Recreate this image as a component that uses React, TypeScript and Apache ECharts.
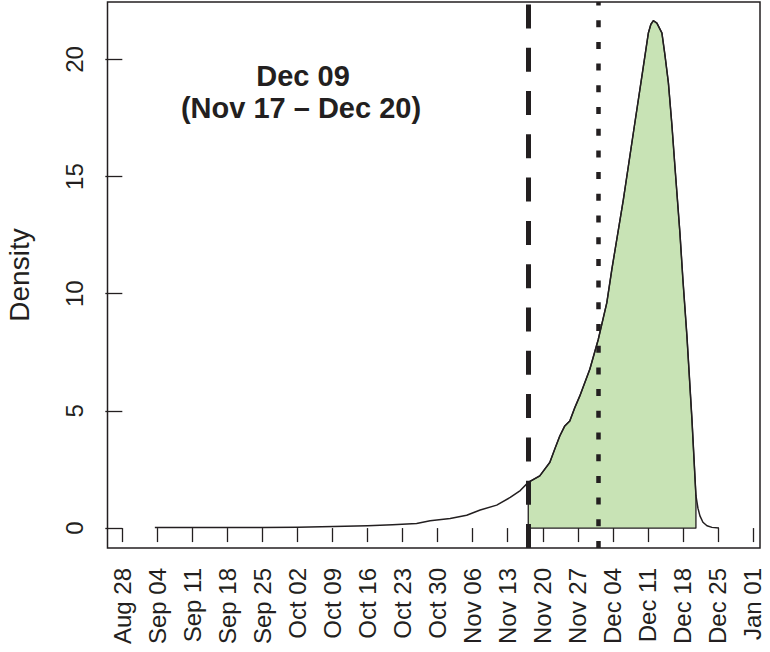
import React, { useEffect, useRef } from "react";
import * as echarts from "echarts";

// ---- data (days counted from Aug 28) ----
const X_TICK_DAYS = [0, 7, 14, 21, 28, 35, 42, 49, 56, 63, 70, 77, 84, 91, 98, 105, 112, 119, 126];
const X_TICK_LABELS = [
  "Aug 28", "Sep 04", "Sep 11", "Sep 18", "Sep 25", "Oct 02", "Oct 09", "Oct 16", "Oct 23",
  "Oct 30", "Nov 06", "Nov 13", "Nov 20", "Nov 27", "Dec 04", "Dec 11", "Dec 18", "Dec 25", "Jan 01",
];
const Y_TICKS = [0, 5, 10, 15, 20];

const CURVE_DAYS = [
  6.5, 14, 21, 28, 35, 42.2, 49, 54, 58.8, 61.5, 65.5, 68.8, 71.5, 74.8, 77.5, 79.5, 81.1,
  83.4, 85.4, 86.4, 87.4, 88.4, 89.4, 90.4, 91.4, 93.4, 95.1, 96.8, 97.8, 100.1, 102.1, 104.1,
  105.1, 105.6, 106.1, 106.8, 107.8, 108.4, 109.1, 109.8, 110.4, 111.4, 112.0, 112.8, 113.8,
  114.6, 115.0, 115.4, 116.0, 116.8, 117.8, 119.2,
];
const CURVE_DENSITY = [
  0.02, 0.02, 0.02, 0.03, 0.04, 0.07, 0.1, 0.14, 0.2, 0.31, 0.41, 0.55, 0.77, 0.98, 1.31, 1.6, 1.95,
  2.23, 2.8, 3.37, 3.93, 4.36, 4.57, 5.14, 5.64, 6.78, 8.06, 9.62, 11.04, 14.02, 16.87, 19.7,
  21.13, 21.5, 21.65, 21.55, 21.13, 20.2, 19.0, 17.2, 15.44, 12.6, 10.6, 8.2, 4.65,
  1.38, 0.85, 0.52, 0.25, 0.1, 0.03, 0.0,
];
const CI_LOWER_DAY = 81.1; // Nov 17
const CI_UPPER_DAY = 114.6; // Dec 20
const REFERENCE_DAY = 95.1; // dotted line
const TITLE_LINES = ["Dec 09", "(Nov 17 \u2013 Dec 20)"];

const X_MIN = -2.96;
const X_MAX = 127.4;
const Y_MIN = -0.85;
const Y_MAX = 22.45;

const INK = "#231F20";
const GREEN = "#C8E3B5";
const FONT = "Liberation Sans, Arial, Helvetica, sans-serif";

export default function App() {
  const ref = useRef<HTMLDivElement>(null);

  useEffect(() => {
    if (!ref.current) return;
    const chart = echarts.init(ref.current, undefined, { renderer: "svg" });
    const curve = CURVE_DAYS.map((d, i) => [d, CURVE_DENSITY[i]]);

    chart.setOption({
      animation: false,
      backgroundColor: "#ffffff",
      textStyle: { fontFamily: FONT },
      grid: {
        left: 107.5,
        top: 2,
        width: 652.5,
        height: 546,
        show: true,
        borderColor: INK,
        borderWidth: 1.5,
        backgroundColor: "transparent",
        containLabel: false,
        outerBoundsMode: "none",
      },
      xAxis: {
        type: "value",
        min: X_MIN,
        max: X_MAX,
        axisLine: { show: false },
        splitLine: { show: false },
        axisTick: {
          show: true,
          customValues: X_TICK_DAYS,
          length: 14,
          inside: false,
          lineStyle: { color: INK, width: 1.3 },
        },
        axisLabel: {
          show: true,
          customValues: X_TICK_DAYS,
          rotate: 90,
          margin: 20,
          fontSize: 24,
          fontFamily: FONT,
          color: INK,
          align: "right",
          verticalAlign: "middle",
          formatter: (v: number) => {
            const i = X_TICK_DAYS.indexOf(Math.round(v));
            return i >= 0 ? X_TICK_LABELS[i] : "";
          },
        },
      },
      yAxis: {
        type: "value",
        min: Y_MIN,
        max: Y_MAX,
        axisLine: { show: false },
        splitLine: { show: false },
        axisTick: {
          show: true,
          customValues: Y_TICKS,
          length: 17,
          lineStyle: { color: INK, width: 1.3 },
        },
        axisLabel: {
          show: true,
          customValues: Y_TICKS,
          rotate: 90,
          margin: 21,
          fontSize: 24,
          lineHeight: 24,
          fontFamily: FONT,
          color: INK,
          align: "center",
          verticalAlign: "bottom",
        },
        name: "Density",
        nameLocation: "middle",
        nameRotate: 90,
        nameGap: 74,
        nameTextStyle: { fontSize: 28, fontFamily: FONT, color: INK },
      },
      graphic: [
        {
          type: "text",
          x: 303,
          y: 76,
          style: {
            text: TITLE_LINES[0],
            fontSize: 29,
            fontWeight: "bold",
            fontFamily: FONT,
            fill: INK,
            textAlign: "center",
            textVerticalAlign: "middle",
          },
        },
        {
          type: "text",
          x: 301,
          y: 108,
          style: {
            text: TITLE_LINES[1],
            fontSize: 29,
            fontWeight: "bold",
            fontFamily: FONT,
            fill: INK,
            textAlign: "center",
            textVerticalAlign: "middle",
          },
        },
      ],
      series: [
        {
          type: "custom",
          z: 1,
          data: [[CI_LOWER_DAY, 0]],
          renderItem: (_params: any, api: any) => {
            const pts: number[][] = [api.coord([CI_LOWER_DAY, 0])];
            CURVE_DAYS.forEach((d, i) => {
              if (d >= CI_LOWER_DAY && d <= CI_UPPER_DAY) pts.push(api.coord([d, CURVE_DENSITY[i]]));
            });
            pts.push(api.coord([CI_UPPER_DAY, 0]));
            return {
              type: "polygon",
              shape: { points: pts },
              style: { fill: GREEN, stroke: INK, lineWidth: 1.3, lineJoin: "round" },
            };
          },
        },
        {
          type: "line",
          z: 2,
          data: curve,
          showSymbol: false,
          symbol: "none",
          lineStyle: { color: INK, width: 1.5, join: "round" },
          markLine: {
            silent: true,
            symbol: "none",
            label: { show: false },
            data: [
              {
                xAxis: CI_LOWER_DAY,
                lineStyle: { color: INK, width: 5, type: [24, 19.3], cap: "butt" },
              },
              {
                xAxis: REFERENCE_DAY,
                lineStyle: { color: INK, width: 4.5, type: [7, 14.7], cap: "butt" },
              },
            ],
          },
        },
      ],
    });

    return () => chart.dispose();
  }, []);

  return (
    <div
      ref={ref}
      style={{ position: "fixed", left: 0, top: 0, width: 770, height: 652, background: "#fff" }}
    />
  );
}
